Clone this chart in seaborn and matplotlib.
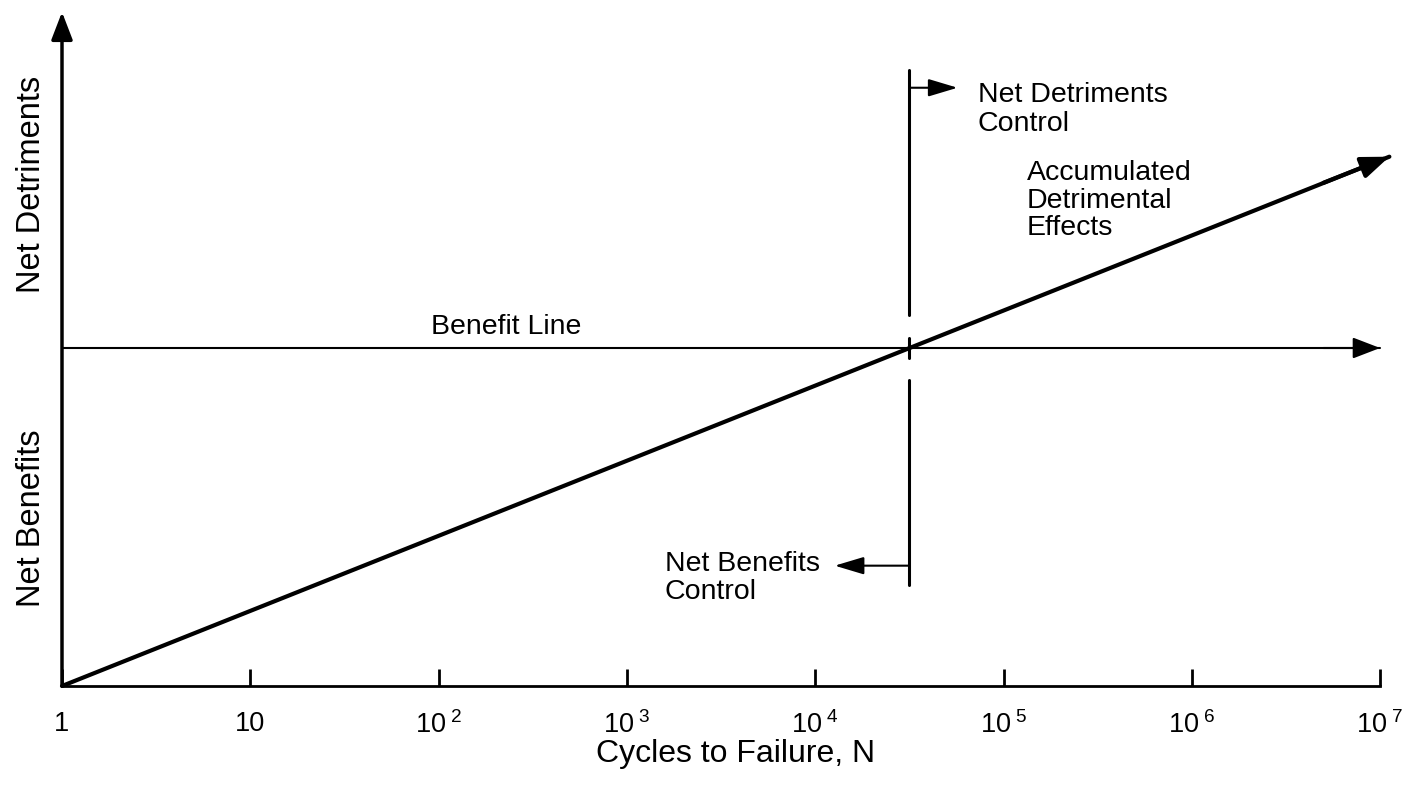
import numpy as np
import pandas as pd
import seaborn as sns
import matplotlib
matplotlib.use("Agg")
import matplotlib.pyplot as plt

sns.set_style("white")
plt.rcParams['font.family'] = ['Liberation Sans', 'DejaVu Sans']
plt.rcParams['mathtext.fontset'] = 'custom'
plt.rcParams['mathtext.rm'] = 'Liberation Sans'
plt.rcParams['mathtext.it'] = 'Liberation Sans'
plt.rcParams['text.color'] = 'black'
plt.rcParams['axes.labelcolor'] = 'black'
plt.rcParams['xtick.color'] = 'black'

# ---- data ----
tick_values = [1, 10, 1e2, 1e3, 1e4, 1e5, 1e6, 1e7]
tick_labels = ["1", "10", r"$\mathregular{10^{\ 2}}$", r"$\mathregular{10^{\ 3}}$",
               r"$\mathregular{10^{\ 4}}$", r"$\mathregular{10^{\ 5}}$",
               r"$\mathregular{10^{\ 6}}$", r"$\mathregular{10^{\ 7}}$"]
detriment_N = [1, 1.12e7]
detriment_y = [0.0, 0.783]
benefit_N = [1, 1.0e7]
benefit_y = [0.5, 0.5]
crossover_N = 3.16e4
upper_seg = [0.549, 0.911]
lower_seg = [0.149, 0.453]
detr_arrow = [3.16e4, 5.7e4, 0.885]
bene_arrow = [3.16e4, 1.27e4, 0.178]

FS = 20.5

fig = plt.figure(figsize=(14.13, 7.88), dpi=100)
ax = fig.add_axes([62/1413, 102/788, 7.15*188.3/1413, 676/788])
ax.set_xscale('log')

df_d = pd.DataFrame({"N": detriment_N, "y": detriment_y})
df_b = pd.DataFrame({"N": benefit_N, "y": benefit_y})
sns.lineplot(data=df_d, x="N", y="y", ax=ax, color='black', lw=3.0, clip_on=False)
sns.lineplot(data=df_b, x="N", y="y", ax=ax, color='black', lw=1.5, clip_on=False)

big_head = dict(arrowstyle='-|>,head_length=1.3,head_width=0.5', color='black',
                shrinkA=0, shrinkB=0, mutation_scale=13)
# arrowheads
ax.annotate("", xy=(detriment_N[1], detriment_y[1]), xytext=(5e6, 0.5 * np.log10(5e6) / 4.5),
            arrowprops=dict(lw=3, **big_head), annotation_clip=False)
ax.annotate("", xy=(benefit_N[1], 0.5), xytext=(5e6, 0.5),
            arrowprops=dict(lw=1.5, **big_head), annotation_clip=False)
# y axis arrow
ax.annotate("", xy=(1, 0.997), xytext=(1, 0),
            arrowprops=dict(lw=2.5, **big_head), annotation_clip=False)

# vertical divider
ax.plot([crossover_N, crossover_N], upper_seg, color='black', lw=2.2)
ax.plot([crossover_N, crossover_N], lower_seg, color='black', lw=2.2)
ax.plot([crossover_N, crossover_N], [0.485, 0.515], color='black', lw=2.2)

small_head = dict(arrowstyle='-|>,head_length=1.5,head_width=0.45', color='black', lw=1.5,
                  shrinkA=0, shrinkB=0, mutation_scale=12)
ax.annotate("", xy=(detr_arrow[1], detr_arrow[2]), xytext=(detr_arrow[0], detr_arrow[2]),
            arrowprops=small_head)
ax.annotate("", xy=(bene_arrow[1], bene_arrow[2]), xytext=(bene_arrow[0], bene_arrow[2]),
            arrowprops=small_head)

# texts
ax.text(228, 0.512, "Benefit Line", ha='center', va='bottom', fontsize=FS)
ax.text(7.3e4, 0.893, "Net Detriments\nControl", ha='left', va='top', fontsize=FS, linespacing=1.12)
ax.text(1.33e5, 0.778, "Accumulated\nDetrimental\nEffects", ha='left', va='top', fontsize=FS, linespacing=1.08)
ax.text(1585, 0.2, "Net Benefits\nControl", ha='left', va='top', fontsize=FS, linespacing=1.12)

ax.text(-0.0223, (686 - 184) / 676, "Net Detriments", transform=ax.transAxes, rotation=90,
        ha='center', va='center', fontsize=23.5)
ax.text(-0.0223, (686 - 518) / 676, "Net Benefits", transform=ax.transAxes, rotation=90,
        ha='center', va='center', fontsize=23.5)

ax.set_xlim(1, 10**7.15)
ax.set_ylim(0, 1)
for s in ['top', 'right', 'left']:
    ax.spines[s].set_visible(False)
ax.spines['bottom'].set_bounds(1, 1e7)
ax.spines['bottom'].set_linewidth(2)
ax.spines['bottom'].set_color('black')
ax.set_xticks(tick_values)
ax.set_xticklabels(tick_labels, fontsize=19.5)
ax.xaxis.set_minor_locator(matplotlib.ticker.NullLocator())
ax.tick_params(axis='x', direction='in', length=12, width=2, color='black', pad=18, bottom=True)
ax.set_yticks([])
ax.set_xlabel("Cycles to Failure, N", fontsize=23, labelpad=0)
ax.set_ylabel("")

fig.savefig("out.png", dpi=100)
